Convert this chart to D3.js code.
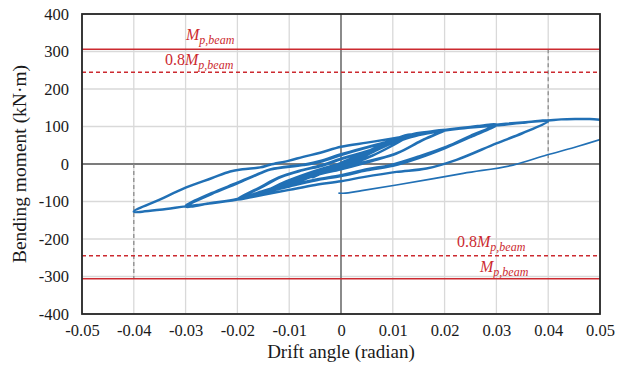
<!DOCTYPE html>
<html><head><meta charset="utf-8">
<script src="https://cdn.jsdelivr.net/npm/d3@7"></script>
<style>
body{margin:0;background:#fff}
svg{display:block}
svg text{font-family:"Liberation Serif","Tinos","Times New Roman","DejaVu Serif","Noto Serif",serif}
</style>
</head><body>
<svg id="chart" width="626" height="365"></svg>
<script>
// ---------- data ----------
const xTickValues = [-0.05,-0.04,-0.03,-0.02,-0.01,0,0.01,0.02,0.03,0.04,0.05];
const xTickLabels = ["-0.05","-0.04","-0.03","-0.02","-0.01","0","0.01","0.02","0.03","0.04","0.05"];
const yTickValues = [-400,-300,-200,-100,0,100,200,300,400];
const yTickLabels = ["-400","-300","-200","-100","0","100","200","300","400"];
const mpBeam = 306;          // plastic moment of beam (kN·m)
const mpFactor = 0.8;
const targetDrifts = [-0.04, 0.04];

// hysteresis (drift, moment) in loading order
const cycle004 = [[0,0],[0.002,12],[0.004,24],[0.002,8],[0,-6],[-0.002,-15],[-0.004,-27],
  [-0.002,-12],[0,1],[0.002,13],[0.004,24]];
const cycle005 = [[0.0055,34],[0.003,14],[0,-8],[-0.003,-20],[-0.0055,-36],
  [-0.003,-17],[0,2],[0.003,18],[0.0055,34]];
const cycle0075 = [[0.008,52],[0.005,28],[0.002,6],[0,-8],[-0.004,-24],[-0.008,-46],
  [-0.005,-27],[-0.002,-10],[0,3],[0.004,26],[0.008,52]];
const cycle010 = [[0.0105,67],[0.007,38],[0.003,10],[0,-10],[-0.005,-30],[-0.0105,-60],
  [-0.007,-36],[-0.003,-14],[0,3],[0.005,30],[0.0105,67]];
const cycle015 = [[0.0135,79],[0.01,50],[0.006,22],[0.002,2],[-0.003,-17],[-0.008,-40],[-0.0145,-74],
  [-0.011,-50],[-0.007,-28],[-0.003,-10],[0.002,8],[0.007,38],[0.0135,79],
  [0.0095,46],[0.005,16],[0,-8],[-0.004,-22],[-0.009,-45],[-0.0145,-73],
  [-0.0105,-46],[-0.006,-23],[-0.002,-6],[0.003,12],[0.008,45],[0.0135,78]];
const cycle020 = [[0.017,86],[0.02,91],
  [0.016,66],[0.0107,28],[0.006,10],[0,-10],[-0.005,-28],[-0.01,-50],[-0.015,-72],[-0.02,-93],
  [-0.016,-65],[-0.012,-36],[-0.008,-18],[-0.004,-4],[0,14],[0.005,34],[0.01,57],[0.015,78],[0.02,90],
  [0.0155,62],[0.011,30],[0.006,8],[0,-14],[-0.005,-30],[-0.01,-52],[-0.015,-74],[-0.0195,-91],
  [-0.0155,-63],[-0.0115,-34],[-0.0075,-17],[-0.0035,-4],[0,13],[0.005,34],[0.01,56],[0.015,77],[0.02,89]];
const cycle030 = [[0.025,98],[0.03,105],
  [0.025,75],[0.0204,46],[0.015,20],[0.0095,-3],[0.005,-14],[0,-30],[-0.005,-42],[-0.01,-58],[-0.015,-74],[-0.02,-93],[-0.025,-104],[-0.03,-114],
  [-0.025,-80],[-0.0201,-52],[-0.0156,-25],[-0.0137,-15],[-0.0073,-3],[-0.004,6],[0,24],[0.005,44],[0.01,62],[0.015,78],[0.02,90],[0.025,98],[0.03,104],
  [0.025,72],[0.02,42],[0.015,16],[0.01,-5],[0.005,-17],[0,-32],[-0.005,-44],[-0.01,-60],[-0.015,-77],[-0.02,-94],[-0.025,-104],[-0.03,-112],
  [-0.025,-78],[-0.02,-50],[-0.0155,-24],[-0.0135,-14],[-0.007,-1],[-0.004,8],[0,26],[0.005,45],[0.01,63],[0.015,78],[0.02,90],[0.025,97],[0.03,103]];
const cycle040 = [[0.035,110],[0.04,115],
  [0.035,82],[0.03,55],[0.0223,11],[0.0165,-12],[0.0107,-21],[0.0043,-35],[0,-46],[-0.005,-56],[-0.01,-69],[-0.015,-82],[-0.02,-95],[-0.025,-105],[-0.03,-113],[-0.035,-122],[-0.04,-127],
  [-0.035,-95],[-0.03,-63],[-0.025,-38],[-0.0214,-20],[-0.019,-14],[-0.0156,-9],[-0.0137,-2],[-0.01,9],[-0.0073,19],[-0.004,30],[0,46],[0.005,57],[0.01,68],[0.015,80],[0.02,91],[0.025,99],[0.03,105],[0.035,111],[0.04,116]];
const finalPush = [[0.04,116],[0.0425,119],[0.0455,120],[0.048,120],[0.05,118]];
const returnPath = [[0.05,65],[0.045,44],[0.0397,24],[0.0332,-3],[0.0236,-25],[0.0107,-56],[0.004,-71],[0.0014,-77],[0.0004,-78],[-0.0005,-77.5]];

// ---------- drawing ----------
const FONT = '"Liberation Serif","Tinos","Times New Roman","DejaVu Serif","Noto Serif",serif';
const svg = d3.select("#chart");
const x = d3.scaleLinear().domain([-0.05,0.05]).range([82,600]);
const y = d3.scaleLinear().domain([-400,400]).range([314,14]);
const blue = "#2170b5", red = "#cc2a30";

svg.append("defs").append("clipPath").attr("id","plot")
  .append("rect").attr("x",82).attr("y",14).attr("width",518).attr("height",300);

// grid
const g = svg.append("g");
g.selectAll(".vg").data(xTickValues).join("line")
  .attr("x1",d=>x(d)).attr("x2",d=>x(d)).attr("y1",y(400)).attr("y2",y(-400))
  .attr("stroke","#d9d9d9").attr("stroke-width",1.3);
g.selectAll(".hg").data(yTickValues).join("line")
  .attr("y1",d=>y(d)).attr("y2",d=>y(d)).attr("x1",x(-0.05)).attr("x2",x(0.05))
  .attr("stroke","#d9d9d9").attr("stroke-width",1.3);

// zero axes
svg.append("line").attr("x1",x(0)).attr("x2",x(0)).attr("y1",y(400)).attr("y2",y(-400))
  .attr("stroke","#5a5a5a").attr("stroke-width",1.3);
svg.append("line").attr("x1",x(-0.05)).attr("x2",x(0.05)).attr("y1",y(0)).attr("y2",y(0))
  .attr("stroke","#5a5a5a").attr("stroke-width",1.3);

// target drift markers
svg.append("line").attr("x1",x(targetDrifts[1])).attr("x2",x(targetDrifts[1]))
  .attr("y1",y(mpBeam)).attr("y2",y(0))
  .attr("stroke","#8c8c8c").attr("stroke-width",1.3).attr("stroke-dasharray","4,3");
svg.append("line").attr("x1",x(targetDrifts[0])).attr("x2",x(targetDrifts[0]))
  .attr("y1",y(0)).attr("y2",y(-mpBeam))
  .attr("stroke","#8c8c8c").attr("stroke-width",1.3).attr("stroke-dasharray","4,3");

// Mp lines
[mpBeam,-mpBeam].forEach(v=>{
  svg.append("line").attr("x1",x(-0.05)).attr("x2",x(0.05)).attr("y1",y(v)).attr("y2",y(v))
    .attr("stroke",red).attr("stroke-width",1.6);
});
[mpFactor*mpBeam,-mpFactor*mpBeam].forEach(v=>{
  svg.append("line").attr("x1",x(-0.05)).attr("x2",x(0.05)).attr("y1",y(v)).attr("y2",y(v))
    .attr("stroke",red).attr("stroke-width",1.6).attr("stroke-dasharray","4,3");
});

// curves
const line = d3.line().x(d=>x(d[0])).y(d=>y(d[1])).curve(d3.curveCatmullRom.alpha(0.5));
const mainPath = [].concat(cycle004,cycle005,cycle0075,cycle010,cycle015,cycle020,cycle030,cycle040,finalPush.slice(1));
const cg = svg.append("g").attr("clip-path","url(#plot)");
cg.append("path").datum(mainPath).attr("d",line).attr("fill","none")
  .attr("stroke",blue).attr("stroke-width",2.5).attr("stroke-linejoin","round");
cg.append("path").datum(returnPath).attr("d",line).attr("fill","none")
  .attr("stroke",blue).attr("stroke-width",1.7).attr("stroke-linejoin","round");

// border
svg.append("rect").attr("x",82).attr("y",14).attr("width",518).attr("height",300)
  .attr("fill","none").attr("stroke","#262626").attr("stroke-width",1.8);

// axes labels
const xAxis = d3.axisBottom(x).tickValues(xTickValues).tickFormat((d,i)=>xTickLabels[i]).tickSize(0).tickPadding(10);
const xa = svg.append("g").attr("transform","translate(0,314)").call(xAxis);
xa.attr("font-family",FONT);
xa.select(".domain").remove();
xa.selectAll("text").attr("font-size",16.5).attr("fill","#1a1a1a");

const yAxis = d3.axisLeft(y).tickValues(yTickValues).tickFormat((d,i)=>yTickLabels[i]).tickSize(0).tickPadding(13);
const ya = svg.append("g").attr("transform","translate(82,0)").call(yAxis);
ya.attr("font-family",FONT);
ya.select(".domain").remove();
ya.selectAll("text").attr("font-size",16.5).attr("fill","#1a1a1a");

svg.append("text").attr("x",341).attr("y",358).attr("text-anchor","middle")
  .attr("font-size",19).attr("fill","#1a1a1a").text("Drift angle (radian)");
svg.append("text").attr("transform","translate(25.5,164) rotate(-90)").attr("text-anchor","middle")
  .attr("font-size",19.5).attr("fill","#1a1a1a").text("Bending moment (kN·m)");

// Mp labels
function mpLabel(xPos, yBase, withFactor){
  const t = svg.append("text").attr("x",xPos).attr("y",yBase).attr("fill",red).attr("font-size",16);
  if(withFactor) t.append("tspan").text(String(mpFactor));
  t.append("tspan").attr("font-style","italic").text("M");
  t.append("tspan").attr("font-style","italic").attr("font-size",12).attr("dy",4).text("p,beam");
}
mpLabel(186, 40, false);
mpLabel(165, 65, true);
mpLabel(457, 247, true);
mpLabel(480, 272, false);
</script>
</body></html>
